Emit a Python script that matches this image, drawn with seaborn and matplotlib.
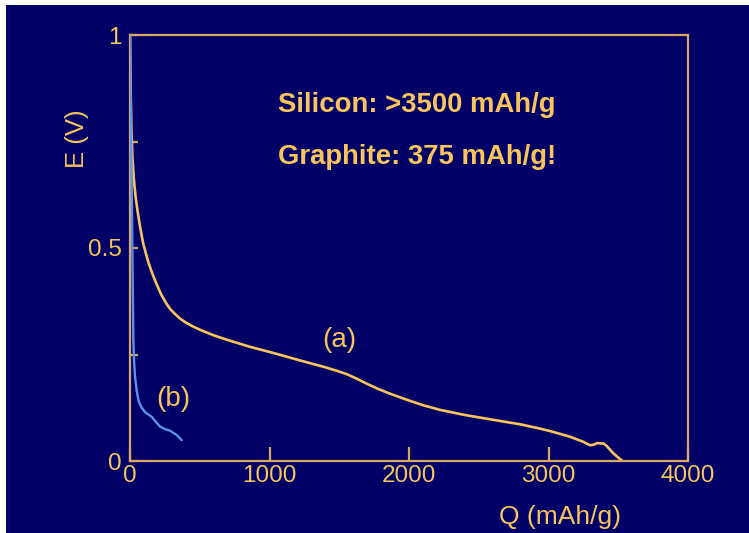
import matplotlib
matplotlib.use("Agg")
import matplotlib.pyplot as plt
import seaborn as sns
import pandas as pd
from matplotlib.patches import Rectangle
from matplotlib import font_manager

# Data
q_silicon = [0, 4, 10, 18, 28, 40, 55, 72, 95, 130, 160, 191, 225, 260, 290, 323, 360,
             400, 450, 502, 600, 700, 860, 1000, 1100, 1219, 1320, 1400, 1480, 1553,
             1620, 1700, 1780, 1864, 1940, 2000, 2100, 2222, 2400, 2652, 2800, 2939,
             3014, 3154, 3250, 3297, 3320, 3350, 3393, 3415, 3440, 3465, 3500, 3530]
e_silicon = [1.0, 0.88, 0.78, 0.71, 0.66, 0.62, 0.585, 0.55, 0.51, 0.468, 0.44, 0.415,
             0.39, 0.37, 0.356, 0.345, 0.334, 0.325, 0.316, 0.308, 0.295, 0.284, 0.268,
             0.256, 0.247, 0.236, 0.227, 0.22, 0.212, 0.204, 0.194, 0.181, 0.169,
             0.158, 0.149, 0.142, 0.131, 0.12, 0.108, 0.094, 0.086, 0.076, 0.07,
             0.057, 0.045, 0.037, 0.038, 0.042, 0.041, 0.036, 0.027, 0.018, 0.008, 0.0]
q_graphite = [0, 3, 8, 14, 17, 20, 24, 30, 36, 48, 62, 84, 110, 155, 185, 215, 250,
              287, 335, 370]
e_graphite = [1.0, 0.9, 0.75, 0.6, 0.5, 0.4, 0.284, 0.23, 0.198, 0.165, 0.14, 0.125,
              0.114, 0.104, 0.092, 0.081, 0.075, 0.071, 0.061, 0.049]

x_ticks = [0, 1000, 2000, 3000, 4000]
x_tick_labels = ["0", "1000", "2000", "3000", "4000"]
y_ticks = [0, 0.25, 0.5, 0.75, 1]
y_tick_labels = ["0", "", "0.5", "", "1"]

df = pd.concat([
    pd.DataFrame({"Q": q_silicon, "E": e_silicon, "s": "a"}),
    pd.DataFrame({"Q": q_graphite, "E": e_graphite, "s": "b"}),
], ignore_index=True)

BG = "#000066"
YEL = "#F9C45A"
SPINE = "#D9A862"
BLUE = "#5A92EE"

sns.set_theme(style="white")
plt.rcParams["font.family"] = ["Liberation Sans", "DejaVu Sans"]

names = {f.name for f in font_manager.fontManager.ttflist}
narrow = "Liberation Sans Narrow" in names
tick_family = ["Liberation Sans Narrow"] if narrow else ["Liberation Sans"]
tick_size = 20 if narrow else 17.5

fig = plt.figure(figsize=(7.49, 5.33), dpi=100, facecolor="white")
fig.patches.append(Rectangle((6 / 749, -0.1), 2, 1.1 - 5 / 533, transform=fig.transFigure,
                             facecolor=BG, edgecolor="none", zorder=-10))
ax = fig.add_axes([130 / 749, 1 - 461 / 533, (688 - 130) / 749, (461 - 35) / 533])
ax.set_facecolor(BG)

sns.lineplot(data=df, x="Q", y="E", hue="s", palette={"a": YEL, "b": BLUE},
             hue_order=["a", "b"], sort=False, estimator=None, linewidth=1.9,
             legend=False, ax=ax)
ax.lines[1].set_zorder(3)
ax.lines[1].set_linewidth(1.7)

ax.set_xlim(0, 4000)
ax.set_ylim(0, 1)
ax.set_xticks(x_ticks)
ax.set_xticklabels(x_tick_labels)
ax.set_yticks(y_ticks)
ax.set_yticklabels(y_tick_labels)

for s in ax.spines.values():
    s.set_color(SPINE)
    s.set_linewidth(1.6)
    s.set_visible(True)

ax.tick_params(axis="x", direction="in", length=10, width=1.6, color=SPINE,
               labelcolor=YEL, labelsize=tick_size, pad=3, bottom=True)
ax.tick_params(axis="y", direction="in", length=6, width=1.6, color=SPINE,
               labelcolor=YEL, labelsize=tick_size, pad=6, left=True)
for lab in ax.get_xticklabels() + ax.get_yticklabels():
    lab.set_family(tick_family)

ax.set_xlabel("")
ax.set_ylabel("")
fig.text(560 / 749, 1 - 517 / 533, "Q (mAh/g)", color=YEL, fontsize=19,
         ha="center", va="center")
fig.text(77 / 749, 1 - 139 / 533, "E (V)", color=YEL, fontsize=18.5,
         ha="center", va="center", rotation=90)

fig.text(278 / 749, 1 - 105 / 533, "Silicon: >3500 mAh/g", color=YEL, fontsize=19.8,
         fontweight="bold", ha="left", va="center")
fig.text(278 / 749, 1 - 157 / 533, "Graphite: 375 mAh/g!", color=YEL, fontsize=19.8,
         fontweight="bold", ha="left", va="center")
ax.text(1500, 0.285, "(a)", color=YEL, fontsize=20, ha="center", va="center")
ax.text(310, 0.145, "(b)", color=YEL, fontsize=20, ha="center", va="center")

fig.savefig("out.png", dpi=100, facecolor="white")
